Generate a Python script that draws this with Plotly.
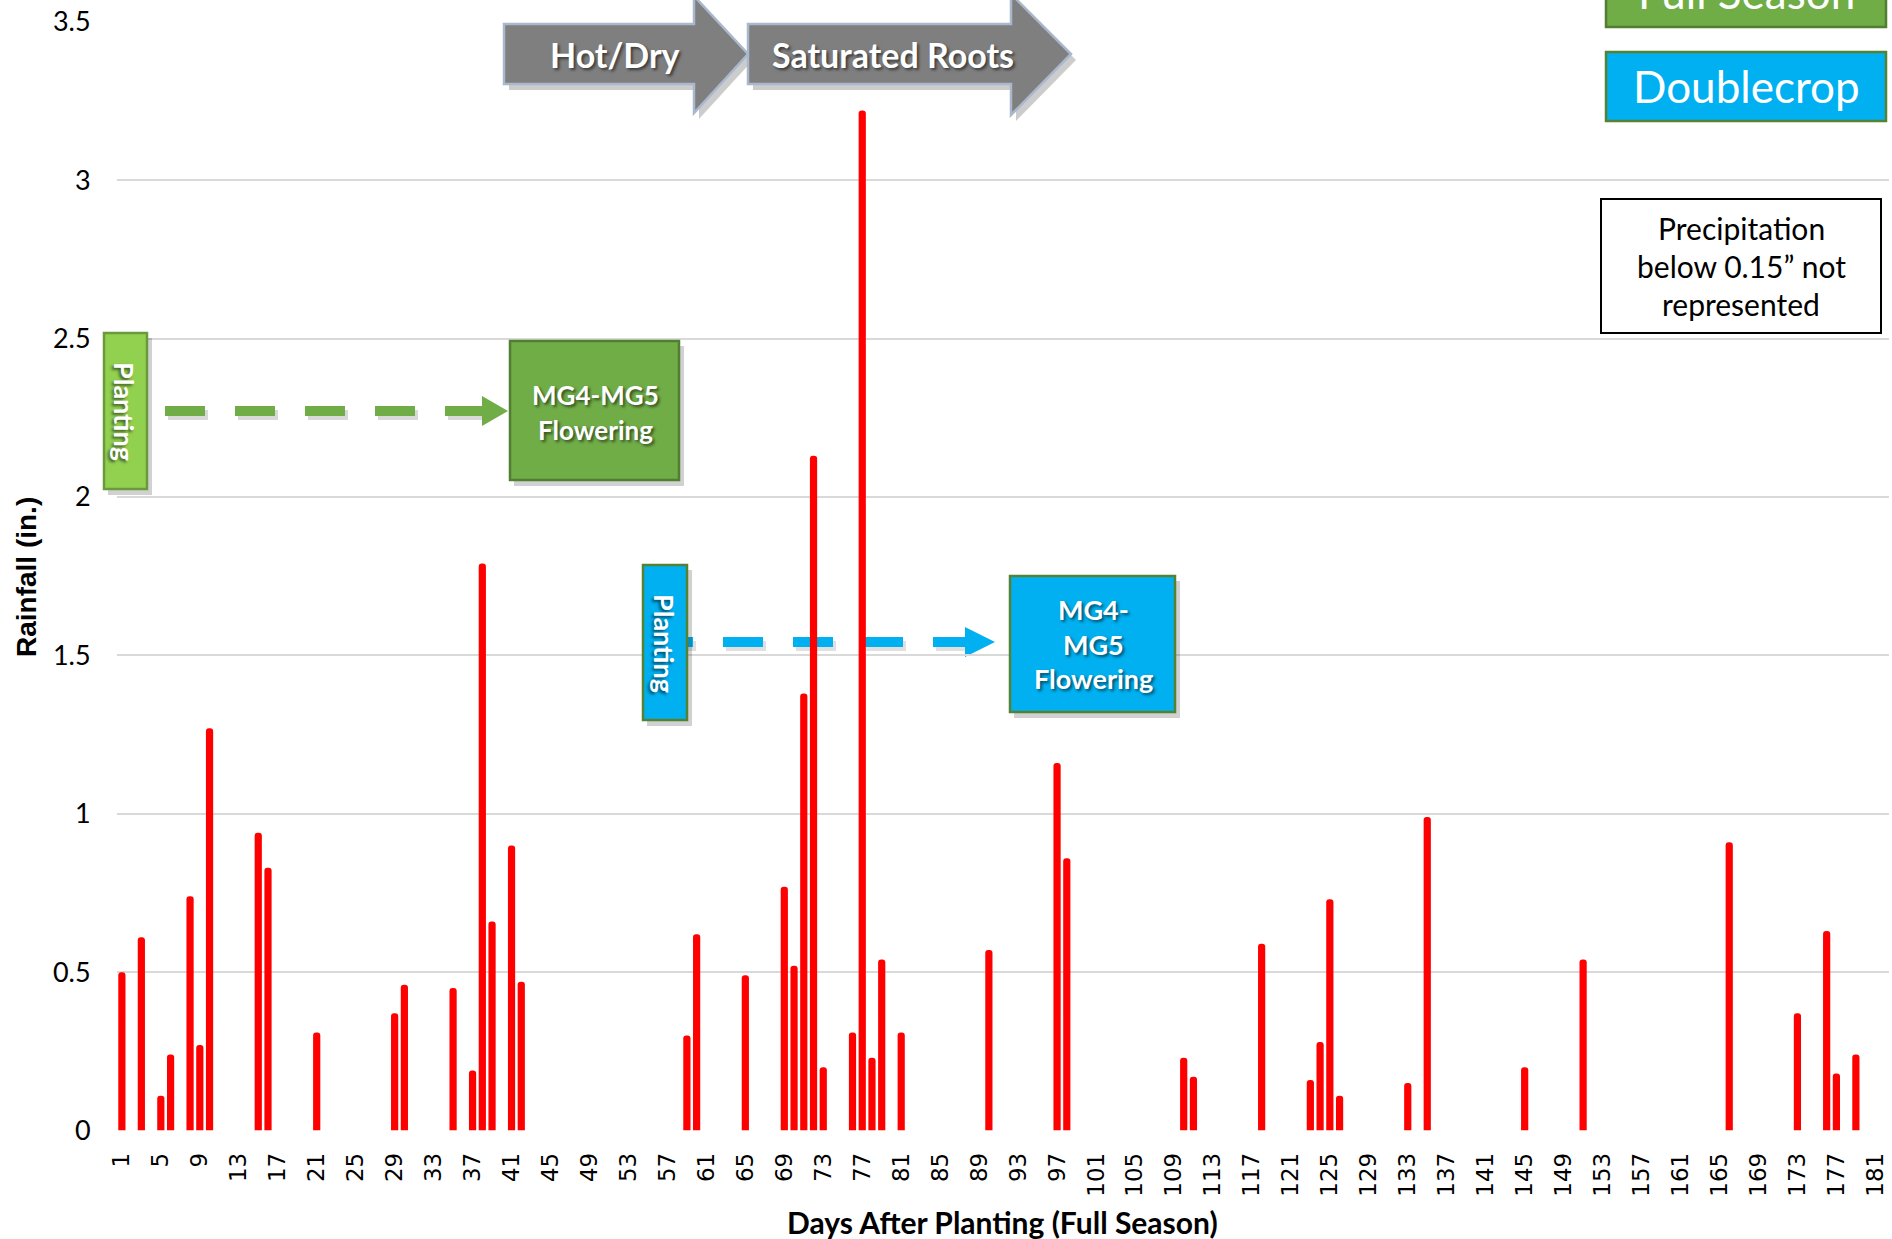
import plotly.graph_objects as go

# ---------------- data ----------------
days = [1, 3, 5, 6, 8, 9, 10, 15, 16, 21, 29, 30, 35, 37, 38, 39, 41, 42,
        59, 60, 65, 69, 70, 71, 72, 73, 76, 77, 78, 79, 81, 90, 97, 98,
        110, 111, 118, 123, 124, 125, 126, 133, 135, 145, 151, 166, 173,
        176, 177, 179]
rain = [0.50, 0.61, 0.11, 0.24, 0.74, 0.27, 1.27, 0.94, 0.83, 0.31, 0.37, 0.46,
        0.45, 0.19, 1.79, 0.66, 0.90, 0.47, 0.30, 0.62, 0.49, 0.77, 0.52, 1.38,
        2.13, 0.20, 0.31, 3.22, 0.23, 0.54, 0.31, 0.57, 1.16, 0.86, 0.23, 0.17,
        0.59, 0.16, 0.28, 0.73, 0.11, 0.15, 0.99, 0.20, 0.54, 0.91, 0.37, 0.63,
        0.18, 0.24]
x_tick_vals = list(range(1, 182, 4))
x_tick_text = [str(v) for v in x_tick_vals]
y_tick_vals = [0, 0.5, 1, 1.5, 2, 2.5, 3, 3.5]
y_tick_text = ["0", "0.5", "1", "1.5", "2", "2.5", "3", "3.5"]

# ---------------- geometry helpers (pixel -> paper) ----------------
W, H = 1892, 1239
def X(p): return p / W
def Y(p): return 1 - p / H

PL, PR, PT, PB = 117, 1889, 21.7, 1130.6

fig = go.Figure()
fig.add_trace(go.Bar(
    x=days, y=rain, width=0.74,
    marker=dict(color="#ff0000", line=dict(width=0), cornerradius=4),
    hoverinfo="x+y", showlegend=False,
))

shapes = []
annotations = []

GREEN = "#70ad47"
GREEN_D = "#507e32"
LGREEN = "#92d050"
BLUE = "#00b0f0"
BLUE_BORDER = "#548235"
SHADOW = "rgba(0,0,0,0.18)"
TXT_SHADOW = "2px 2px 3px rgba(0,0,0,0.55)"

def rect(x0, y0, x1, y1, fill, line, lw=2.5, shadow=True, layer="above"):
    if shadow:
        shapes.append(dict(type="rect", xref="paper", yref="paper",
                           x0=X(x0 + 4), x1=X(x1 + 5), y0=Y(y0 + 5), y1=Y(y1 + 6),
                           fillcolor=SHADOW, line=dict(width=0), layer=layer))
    shapes.append(dict(type="rect", xref="paper", yref="paper",
                       x0=X(x0), x1=X(x1), y0=Y(y0), y1=Y(y1),
                       fillcolor=fill, line=dict(color=line, width=lw), layer=layer))

def poly(pts, fill, line=None, lw=0, layer="above"):
    d = "M " + " L ".join(f"{X(px):.6f},{Y(py):.6f}" for px, py in pts) + " Z"
    shapes.append(dict(type="path", xref="paper", yref="paper", path=d,
                       fillcolor=fill,
                       line=dict(color=line if line else fill, width=lw),
                       layer=layer))

def text(cx, cy, s, size, color="white", family="Lato", bold=False, angle=0, shadow=None):
    f = dict(family=family, size=size, color=color)
    if bold:
        f["weight"] = "bold"
    if shadow:
        f["shadow"] = shadow
    annotations.append(dict(xref="paper", yref="paper", x=X(cx), y=Y(cy), text=s,
                            showarrow=False, xanchor="center", yanchor="middle",
                            textangle=angle, font=f))

def block_arrow(x0, x_head, x_tip, cy, body_half, head_top, head_bot):
    pts = [(x0, cy - body_half), (x_head, cy - body_half), (x_head, head_top),
           (x_tip, cy), (x_head, head_bot), (x_head, cy + body_half), (x0, cy + body_half)]
    poly([(px + 5, py + 6) for px, py in pts], "rgba(0,0,0,0.2)")
    poly(pts, "#7f7f7f", "#a9b8cc", 2.5)

# ---- gray block arrows ----
block_arrow(504, 694, 748, 54, 30, -4, 113)
block_arrow(748, 1011, 1071, 54, 30, -6, 115)
text(615, 54, "Hot/Dry", 34, bold=True, shadow=TXT_SHADOW)
text(893, 54, "Saturated Roots", 34, bold=True, shadow=TXT_SHADOW)

# ---- legend style boxes (top right) ----
rect(1606, -42, 1886, 27, GREEN, GREEN_D, 2.5, shadow=False)
text(1746, -8, "Full Season", 44)
rect(1606, 52, 1886, 121, BLUE, BLUE_BORDER, 2.5, shadow=False)
text(1746, 86, "Doublecrop", 44)

# ---- note box ----
rect(1601, 199, 1881, 333, "white", "black", 2, shadow=False)
text(1741, 228, "Precipitation", 30, color="black")
text(1741, 266, "below 0.15\u201d not", 30, color="black")
text(1741, 304, "represented", 30, color="black")

# ---- full season planting -> flowering ----
shapes.append(dict(type="line", xref="paper", yref="paper", x0=X(168), x1=X(488),
                   y0=Y(415), y1=Y(415), line=dict(color="rgba(0,0,0,0.15)", width=10, dash="40px,30px"),
                   layer="above"))
shapes.append(dict(type="line", xref="paper", yref="paper", x0=X(165), x1=X(485),
                   y0=Y(411), y1=Y(411), line=dict(color=GREEN, width=10, dash="40px,30px"),
                   layer="above"))
poly([(482, 396), (508, 411), (482, 426)], GREEN)
rect(104, 333, 147, 489, LGREEN, "#6a9a3a", 2.5)
text(125, 411, "Planting", 27, bold=True, angle=90, shadow=TXT_SHADOW)
rect(510, 341, 679, 480, GREEN, GREEN_D, 2.5)
text(595, 395, "MG4-MG5", 26, bold=True, shadow=TXT_SHADOW)
text(595, 430, "Flowering", 26, bold=True, shadow=TXT_SHADOW)

# ---- doublecrop planting -> flowering ----
shapes.append(dict(type="line", xref="paper", yref="paper", x0=X(656), x1=X(969),
                   y0=Y(646), y1=Y(646), line=dict(color="rgba(0,0,0,0.12)", width=10, dash="40px,30px"),
                   layer="between"))
shapes.append(dict(type="line", xref="paper", yref="paper", x0=X(653), x1=X(966),
                   y0=Y(642), y1=Y(642), line=dict(color=BLUE, width=10, dash="40px,30px"),
                   layer="between"))
poly([(965, 627), (995, 642), (965, 657)], BLUE, layer="between")
rect(643, 565, 687, 720, BLUE, BLUE_BORDER, 2.5)
text(665, 643, "Planting", 27, bold=True, angle=90, shadow=TXT_SHADOW)
rect(1010, 576, 1175, 712, BLUE, BLUE_BORDER, 2.5)
text(1093, 609, "MG4-", 27, bold=True, shadow=TXT_SHADOW)
text(1093, 644, "MG5", 27, bold=True, shadow=TXT_SHADOW)
text(1093, 679, "Flowering", 27, bold=True, shadow=TXT_SHADOW)

# ---- axis titles ----
text(26, 577, "Rainfall (in.)", 28, color="black", family="Liberation Sans", bold=True, angle=-90)
text(1003, 1222, "Days After Planting (Full Season)", 30, color="black", bold=True)

fig.update_layout(
    template="none",
    width=W, height=H, autosize=False,
    margin=dict(l=0, r=0, t=0, b=0, pad=0),
    paper_bgcolor="white", plot_bgcolor="white",
    showlegend=False,
    shapes=shapes, annotations=annotations,
    xaxis=dict(domain=[X(PL), X(PR)], range=[0.5, 182.4], automargin=False,
               tickmode="array", tickvals=x_tick_vals, ticktext=x_tick_text,
               tickangle=-90, tickfont=dict(family="DejaVu Sans", size=23, color="black"),
               ticks="outside", ticklen=12, tickcolor="rgba(0,0,0,0)",
               showgrid=False, zeroline=False, showline=False),
    yaxis=dict(domain=[1 - PB / H, 1 - PT / H], range=[0, 3.5], automargin=False,
               tickmode="array", tickvals=y_tick_vals, ticktext=y_tick_text,
               tickfont=dict(family="Lato", size=27, color="black"),
               ticks="outside", ticklen=20, tickcolor="rgba(0,0,0,0)",
               showgrid=True, gridcolor="#d9d9d9", gridwidth=2,
               zeroline=False, showline=False),
)

fig.write_html("out.html", config={"displayModeBar": False},
               post_script="document.body.style.margin='0';document.body.style.overflow='hidden';")
